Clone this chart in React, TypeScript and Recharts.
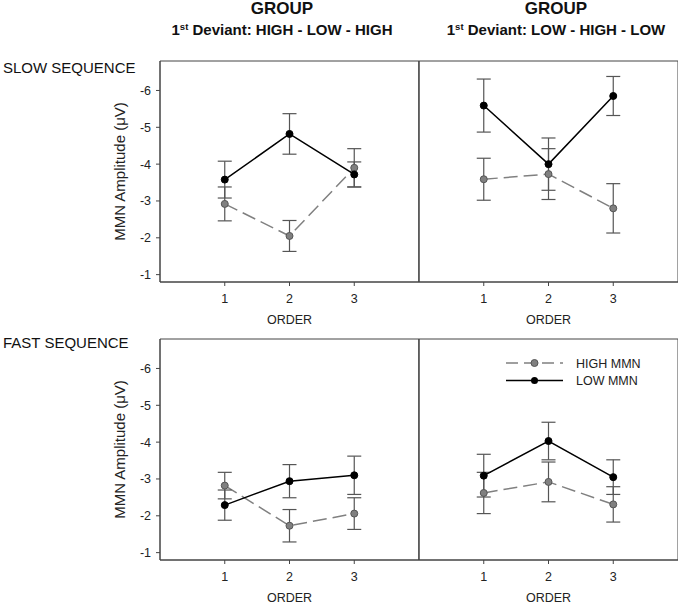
import React from 'react'
import {
  LineChart, Line, XAxis, YAxis, ErrorBar, ReferenceArea, Legend,
} from 'recharts'

const orders = [1, 2, 3]
const yTicks = [-6, -5, -4, -3, -2, -1]

// SLOW sequence, group HIGH - LOW - HIGH
const slowHLHigh = [-2.92, -2.05, -3.9]
const slowHLHighErr = [0.46, 0.42, 0.52]
const slowHLLow = [-3.58, -4.82, -3.72]
const slowHLLowErr = [0.5, 0.55, 0.34]

// SLOW sequence, group LOW - HIGH - LOW
const slowLHHigh = [-3.59, -3.73, -2.8]
const slowLHHighErr = [0.57, 0.69, 0.67]
const slowLHLow = [-5.59, -4.0, -5.85]
const slowLHLowErr = [0.72, 0.71, 0.53]

// FAST sequence, group HIGH - LOW - HIGH
const fastHLHigh = [-2.82, -1.73, -2.06]
const fastHLHighErr = [0.36, 0.44, 0.43]
const fastHLLow = [-2.29, -2.94, -3.1]
const fastHLLowErr = [0.41, 0.45, 0.52]

// FAST sequence, group LOW - HIGH - LOW
const fastLHHigh = [-2.62, -2.92, -2.31]
const fastLHHighErr = [0.56, 0.54, 0.48]
const fastLHLow = [-3.09, -4.03, -3.05]
const fastLHLowErr = [0.58, 0.51, 0.47]

const FONT = '"Liberation Sans", Arial, sans-serif'
const AXIS = '#444'
const GRAY = '#808080'

const rows = (high: number[], highErr: number[], low: number[], lowErr: number[]) =>
  orders.map((o, i) => ({ order: o, high: high[i], highErr: highErr[i], low: low[i], lowErr: lowErr[i] }))

const LegendBox = () => (
  <svg width={150} height={36} style={{ display: 'block' }}>
    <line x1={0} y1={8} x2={57} y2={8} stroke={GRAY} strokeWidth={1.5} strokeDasharray="12 6" />
    <circle cx={28.5} cy={8} r={3.5} fill={GRAY} stroke="#555" />
    <text x={70} y={12.5} fontSize={12.5} fontFamily={FONT} fill="#222">HIGH MMN</text>
    <line x1={0} y1={25.5} x2={57} y2={25.5} stroke="#000" strokeWidth={1.5} />
    <circle cx={28.5} cy={25.5} r={3.5} fill="#000" />
    <text x={70} y={30} fontSize={12.5} fontFamily={FONT} fill="#222">LOW MMN</text>
  </svg>
)

type PanelProps = {
  data: ReturnType<typeof rows>
  left: number
  top: number
  first: boolean
  legend?: boolean
}

function Panel({ data, left, top, first, legend }: PanelProps) {
  const yw = first ? 80 : 11
  const width = first ? 339 : 270
  return (
    <div style={{ position: 'absolute', left, top }}>
      <LineChart width={width} height={279} data={data} margin={{ top: 10, right: 0, bottom: 6, left: 0 }}>
        <XAxis
          dataKey="order" type="number" domain={[0, 4]} ticks={orders} height={42}
          stroke={AXIS} tickSize={4} tickMargin={8}
          tick={{ fontSize: 12.5, fill: '#222', fontFamily: FONT }}
          label={{ value: 'ORDER', position: 'insideBottom', offset: 0, fontSize: 12.5, fill: '#222', fontFamily: FONT }}
        />
        <YAxis
          type="number" domain={[-6.8, -0.8]} ticks={yTicks} reversed allowDataOverflow width={yw}
          stroke={AXIS} tickSize={4} tickMargin={5}
          tick={first ? { fontSize: 12.5, fill: '#222', fontFamily: FONT } : false}
          label={first ? { value: 'MMN Amplitude (μV)', angle: -90, position: 'center', fontSize: 15, fill: '#222', fontFamily: FONT } : undefined}
        />
        <ReferenceArea x1={0} x2={4} y1={-6.8} y2={-0.8} fill="none" stroke={AXIS} ifOverflow="visible" />
        {legend && (
          <Legend
            layout="horizontal" align="center" verticalAlign="middle"
            wrapperStyle={{ left: 98, top: 26, width: 150 }}
            content={() => <LegendBox />}
          />
        )}
        <Line
          dataKey="high" name="HIGH MMN" stroke={GRAY} strokeWidth={1.5} strokeDasharray="14 6"
          dot={{ r: 3.5, fill: GRAY, stroke: '#555', strokeWidth: 1, strokeDasharray: 'none' }}
          isAnimationActive={false}
        >
          <ErrorBar dataKey="highErr" direction="y" width={7} stroke="#555" strokeWidth={1.2} />
        </Line>
        <Line
          dataKey="low" name="LOW MMN" stroke="#000" strokeWidth={1.5}
          dot={{ r: 3.5, fill: '#000', stroke: '#000', strokeWidth: 1 }}
          isAnimationActive={false}
        >
          <ErrorBar dataKey="lowErr" direction="y" width={7} stroke="#555" strokeWidth={1.2} />
        </Line>
      </LineChart>
    </div>
  )
}

const Title = ({ x, text }: { x: number; text: string }) => (
  <>
    <text x={x} y={14} textAnchor="middle" fontSize={17} fontWeight="bold" fontFamily={FONT} fill="#111">GROUP</text>
    <text x={x} y={35} textAnchor="middle" fontSize={15} fontWeight="bold" fontFamily={FONT} fill="#111">
      1<tspan fontSize={9.5} dy={-5}>st</tspan><tspan dy={5}>{' ' + text}</tspan>
    </text>
  </>
)

export default function App() {
  return (
    <div style={{ position: 'absolute', left: 0, top: 0, width: 680, height: 605, background: '#fff' }}>
      <svg width={680} height={605} style={{ position: 'absolute', left: 0, top: 0 }}>
        <Title x={282} text="Deviant: HIGH - LOW - HIGH" />
        <Title x={556} text="Deviant: LOW - HIGH - LOW" />
        <text x={3} y={73} fontSize={15} fontFamily={FONT} fill="#111">SLOW SEQUENCE</text>
        <text x={3} y={347.5} fontSize={15} fontFamily={FONT} fill="#111">FAST SEQUENCE</text>
      </svg>
      <Panel data={rows(slowHLHigh, slowHLHighErr, slowHLLow, slowHLLowErr)} left={80} top={51} first />
      <Panel data={rows(slowLHHigh, slowLHHighErr, slowLHLow, slowLHLowErr)} left={408} top={51} first={false} />
      <Panel data={rows(fastHLHigh, fastHLHighErr, fastHLLow, fastHLLowErr)} left={80} top={329} first />
      <Panel data={rows(fastLHHigh, fastLHHighErr, fastLHLow, fastLHLowErr)} left={408} top={329} first={false} legend />
    </div>
  )
}
